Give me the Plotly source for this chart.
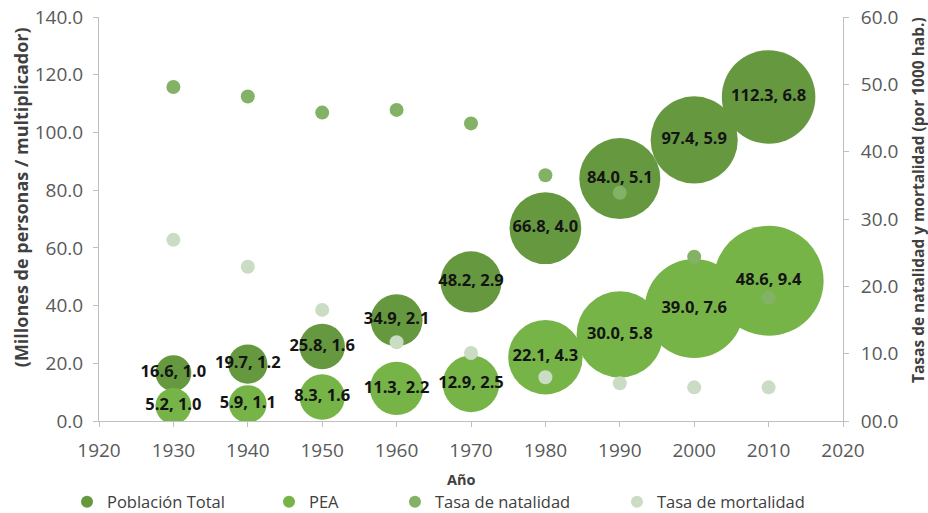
import plotly.graph_objects as go

# Census years
years = [1930, 1940, 1950, 1960, 1970, 1980, 1990, 2000, 2010]

# Total population (millions) and bubble multiplier
poblacion = [16.6, 19.7, 25.8, 34.9, 48.2, 66.8, 84.0, 97.4, 112.3]
poblacion_mult = [1.0, 1.2, 1.6, 2.1, 2.9, 4.0, 5.1, 5.9, 6.8]

# Economically active population (millions) and bubble multiplier
pea = [5.2, 5.9, 8.3, 11.3, 12.9, 22.1, 30.0, 39.0, 48.6]
pea_mult = [1.0, 1.1, 1.6, 2.2, 2.5, 4.3, 5.8, 7.6, 9.4]

# Birth and death rates (per 1000 inhabitants)
natalidad = [49.6, 48.2, 45.8, 46.2, 44.2, 36.5, 33.9, 24.4, 18.3]
mortalidad = [26.9, 22.9, 16.5, 11.7, 10.1, 6.5, 5.6, 5.0, 5.0]

left_ticks = [0, 20, 40, 60, 80, 100, 120, 140]
right_ticks = [0, 10, 20, 30, 40, 50, 60]
right_ticktext = ["00.0", "10.0", "20.0", "30.0", "40.0", "50.0", "60.0"]

FONT = "Open Sans"
TICK_COLOR = "#595959"
LABEL_COLOR = "#141414"
TITLE_COLOR = "#404040"
AXIS_LINE = "#bfbfbf"

max_bubble = max(max(poblacion_mult), max(pea_mult))
sizeref = 2.0 * max_bubble / (110 ** 2)

fig = go.Figure()

fig.add_trace(go.Scatter(
    x=years, y=poblacion, name="Población Total", mode="markers+text",
    marker=dict(size=poblacion_mult, sizemode="area", sizeref=sizeref,
                color="#66993f", opacity=1, line=dict(width=0)),
    text=[f"{v:.1f}, {m:.1f}" for v, m in zip(poblacion, poblacion_mult)],
    textposition="middle center",
    textfont=dict(family=FONT, size=16.5, color=LABEL_COLOR, weight="bold"),
    legend="legend",
))

fig.add_trace(go.Scatter(
    x=years, y=pea, name="PEA", mode="markers+text",
    marker=dict(size=pea_mult, sizemode="area", sizeref=sizeref,
                color="#77b448", opacity=1, line=dict(width=0)),
    text=[f"{v:.1f}, {m:.1f}" for v, m in zip(pea, pea_mult)],
    textposition="middle center",
    textfont=dict(family=FONT, size=16.5, color=LABEL_COLOR, weight="bold"),
    legend="legend2",
))

fig.add_trace(go.Scatter(
    x=years, y=natalidad, name="Tasa de natalidad", mode="markers",
    marker=dict(size=14, color="#83b266", opacity=1, line=dict(width=0)),
    yaxis="y2", legend="legend3",
))

fig.add_trace(go.Scatter(
    x=years, y=mortalidad, name="Tasa de mortalidad", mode="markers",
    marker=dict(size=14, color="#cadcc3", opacity=1, line=dict(width=0)),
    yaxis="y2", legend="legend4",
))

legend_common = dict(
    orientation="h", yanchor="top", xanchor="left", y=-0.157,
    font=dict(family=FONT, size=16.5, color=TITLE_COLOR),
    itemsizing="constant", itemwidth=30, bgcolor="rgba(0,0,0,0)",
    borderwidth=0,
)

axis_common = dict(
    showgrid=False, zeroline=False, showline=True,
    linecolor=AXIS_LINE, linewidth=1, ticks="outside", ticklen=5,
    tickcolor=AXIS_LINE, tickfont=dict(family=FONT, size=19, color=TICK_COLOR),
)

fig.update_layout(
    width=928, height=513,
    margin=dict(l=99, r=85, t=17, b=92, autoexpand=False),
    paper_bgcolor="white", plot_bgcolor="white",
    font=dict(family=FONT, size=15, color=TICK_COLOR),
    showlegend=True,
    xaxis=dict(axis_common, range=[1920, 2020],
               tickvals=list(range(1920, 2021, 10)), ticklabelstandoff=7),
    yaxis=dict(axis_common, range=[0, 140], tickvals=left_ticks,
               tickformat=".1f", ticklabelstandoff=6),
    yaxis2=dict(axis_common, range=[0, 60], tickvals=right_ticks,
                ticktext=right_ticktext, overlaying="y", side="right",
                ticklabelstandoff=8),
    legend=dict(legend_common, x=-0.043),
    legend2=dict(legend_common, x=0.2285),
    legend3=dict(legend_common, x=0.3978),
    legend4=dict(legend_common, x=0.6962),
    annotations=[
        dict(text="(Millones de personas / multiplicador)", xref="paper", yref="paper",
             x=-0.1048, y=0.554, xanchor="center", yanchor="middle", textangle=-90,
             showarrow=False, font=dict(family=FONT, size=18, color=TITLE_COLOR, weight="bold")),
        dict(text="Tasas de natalidad y mortalidad (por 1000 hab.)", xref="paper", yref="paper",
             x=1.1008, y=0.547, xanchor="center", yanchor="middle", textangle=-90,
             showarrow=False, font=dict(family=FONT, size=15.5, color=TITLE_COLOR, weight="bold")),
        dict(text="Año", xref="paper", yref="paper",
             x=0.4866, y=-0.1436, xanchor="center", yanchor="middle",
             showarrow=False, font=dict(family=FONT, size=14.5, color=TITLE_COLOR, weight="bold")),
    ],
)

fig.write_html("out.html")
